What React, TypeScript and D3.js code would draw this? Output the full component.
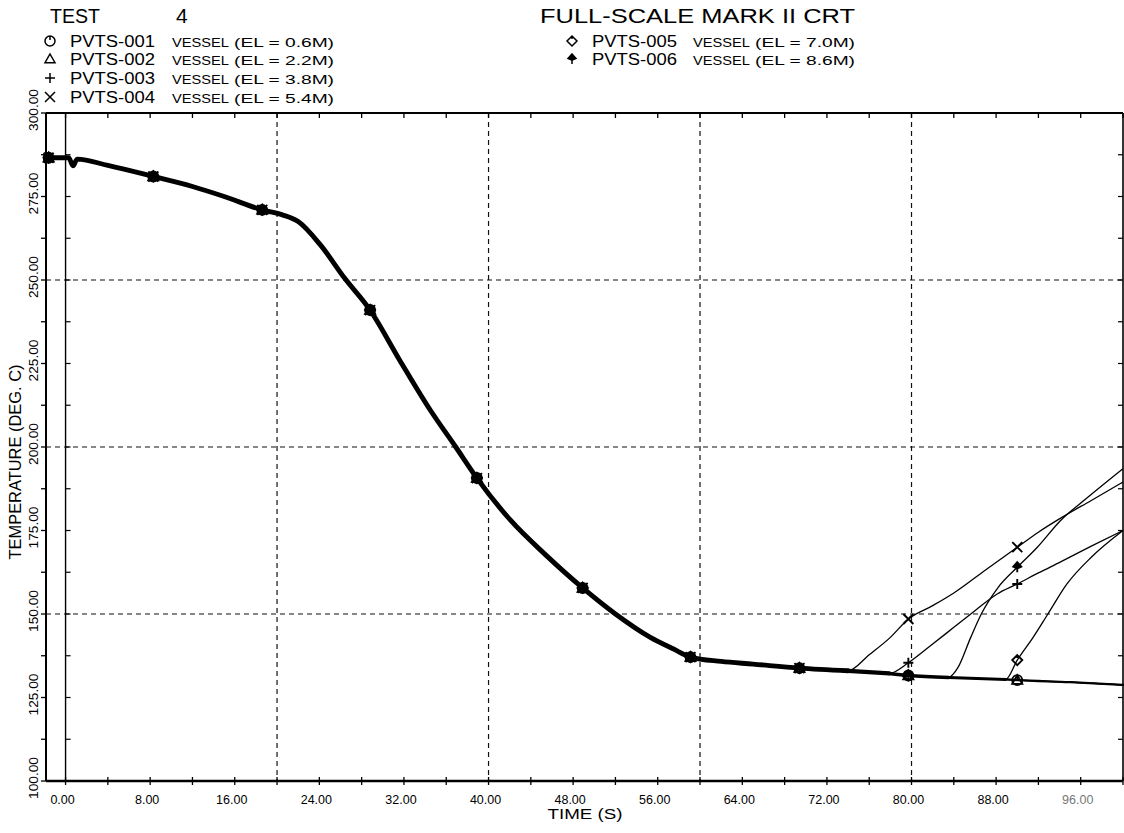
import React from 'react';
import * as d3 from 'd3';

const W = 1124;
const H = 833;

// ---- axes ----
const xDomain = [-1.85, 100];
const yDomain = [100, 300];
const xTickValues = d3.range(0, 101, 4);
const xLabelValues = [0, 8, 16, 24, 32, 40, 48, 56, 64, 72, 80, 88, 96];
const yTickValues = d3.range(100, 300.1, 12.5);
const yLabelValues = [100, 125, 150, 175, 200, 225, 250, 275, 300];
const gridX = [20, 40, 60, 80];
const gridY = [150, 200, 250];

// ---- data: common vessel temperature (all sensors submerged) ----
const baseTimes = [-1.85, -1.6, 0.3, 0.7, 1.1, 4, 8.3, 12, 15, 18.6, 20.5, 22, 24.1, 26.4, 28.8, 31.6, 34.5, 36.9, 38.9, 42.1, 45.4, 48.9, 52, 55.3, 57.5, 59.1, 62, 65, 69.4, 74, 77.9, 79.7, 83.5, 88.9, 90, 95, 100];
const baseTemps = [286.6, 286.6, 286.6, 284.2, 286.2, 284.3, 281, 278, 275, 271, 269.5, 267.5, 260.5, 250.5, 241, 226, 211, 200, 190.7, 178, 167.7, 157.8, 150, 143, 139.5, 137.1, 135.8, 135, 133.8, 133, 132.2, 131.6, 131, 130.4, 130.2, 129.6, 128.8];

// ---- data: individual departures (sensor uncovered) ----
const rise003Times = [77.9, 79.7, 82, 84, 86, 88.1, 90, 92, 94.1, 97, 100];
const rise003Temps = [132.2, 135.4, 141, 146, 151, 156, 159, 162.3, 165.6, 170.3, 175];
const rise004Times = [74, 76, 78, 79.7, 82, 84, 87, 90, 92, 94.1, 97, 100];
const rise004Temps = [133, 137.8, 143, 148.5, 152.5, 156.3, 163.2, 170, 174.5, 178.7, 184, 189.5];
const rise005Times = [88.9, 90, 91.5, 92.9, 94.7, 97, 100];
const rise005Temps = [130.4, 136.2, 143, 150, 159, 167, 175];
const rise006Times = [83.5, 84.4, 85.6, 86.6, 88.2, 90, 91.9, 94.1, 96.7, 100];
const rise006Temps = [131, 134, 143, 150, 158, 164, 170, 178, 185, 193.5];

const markerTimes = [-1.6, 8.3, 18.6, 28.8, 38.9, 48.9, 59.1, 69.4, 79.7, 90];

const seriesNames = ['PVTS-001', 'PVTS-002', 'PVTS-003', 'PVTS-004', 'PVTS-005', 'PVTS-006'];
const seriesElev = ['(EL = 0.6M)', '(EL = 2.2M)', '(EL = 3.8M)', '(EL = 5.4M)', '(EL = 7.0M)', '(EL = 8.6M)'];
const seriesSymbols = ['circle', 'triangle', 'plus', 'cross', 'diamond', 'arrow'];
const riseTimes = [[], [], rise003Times, rise004Times, rise005Times, rise006Times];
const riseTemps = [[], [], rise003Temps, rise004Temps, rise005Temps, rise006Temps];

const FONT = "'Liberation Sans', Arial, sans-serif";

const x = d3.scaleLinear().domain(xDomain).range([46, 1123]);
const y = d3.scaleLinear().domain(yDomain).range([781, 113]);

type P = [number, number];

function departTime(i: number) {
  return riseTimes[i].length ? riseTimes[i][0] : Infinity;
}

function buildSeries(i: number): P[] {
  const dep = departTime(i);
  const pts: P[] = [];
  baseTimes.forEach((t, j) => {
    if (t < dep) pts.push([t, baseTemps[j]]);
  });
  riseTimes[i].forEach((t, j) => pts.push([t, riseTemps[i][j]]));
  return pts;
}

const line = d3
  .line<P>()
  .x((d) => x(d[0]))
  .y((d) => y(d[1]))
  .curve(d3.curveMonotoneX);

function symbolPath(kind: string, s: number) {
  switch (kind) {
    case 'circle':
      return `M${s},0 A${s},${s} 0 1,1 ${-s},0 A${s},${s} 0 1,1 ${s},0 M0,${-s} L0,${-s * 0.2}`;
    case 'triangle':
      return `M0,${-s} L${s},${s * 0.75} L${-s},${s * 0.75} Z`;
    case 'plus':
      return `M${-s},0 L${s},0 M0,${-s} L0,${s}`;
    case 'cross':
      return `M${-s},${-s} L${s},${s} M${-s},${s} L${s},${-s}`;
    case 'diamond':
      return `M0,${-s} L${s},0 L0,${s} L${-s},0 Z M0,${-s} L0,${-s * 0.4}`;
    case 'arrow':
      return `M0,${-s} L${s * 0.8},${-s * 0.1} L0,${s * 0.25} L${-s * 0.8},${-s * 0.1} Z M0,${s * 0.25} L0,${s}`;
    default:
      return '';
  }
}

export default function App() {
  const series = seriesNames.map((_, i) => buildSeries(i));

  // base bundle segments: thickness grows with the number of sensors sharing it
  const groups: { pts: P[]; w: number }[] = [];
  let cur: { pts: P[]; w: number } | null = null;
  for (let j = 0; j < baseTimes.length - 1; j++) {
    const tEnd = baseTimes[j + 1];
    const count = seriesNames.filter((_, i) => departTime(i) >= tEnd).length;
    const w = 1 + 0.65 * count;
    if (!cur || cur.w !== w) {
      cur = { pts: [[baseTimes[j], baseTemps[j]]], w };
      groups.push(cur);
    }
    cur.pts.push([tEnd, baseTemps[j + 1]]);
  }

  const isMarker = (t: number) => markerTimes.some((m) => Math.abs(m - t) < 1e-6);

  const x0 = x(0);
  const left = x(xDomain[0]);
  const right = x(xDomain[1]);
  const top = y(yDomain[1]);
  const bottom = y(yDomain[0]);

  const leftRows = [0, 1, 2, 3];
  const rightRows = [4, 5];
  const rowBase = [47, 65, 84, 103];

  return (
    <svg
      width={W}
      height={H}
      viewBox={`0 0 ${W} ${H}`}
      style={{ position: 'absolute', left: 0, top: 0, background: '#fff' }}
      fontFamily={FONT}
    >
      <rect x={0} y={0} width={W} height={H} fill="#fff" />

      {/* grid */}
      {gridY.map((v) => (
        <line key={'gy' + v} x1={left} x2={right} y1={y(v)} y2={y(v)} stroke="#111" strokeWidth={1.2} strokeDasharray="5,4" />
      ))}
      {gridX.map((v) => (
        <line key={'gx' + v} x1={x(v)} x2={x(v)} y1={top} y2={bottom} stroke="#111" strokeWidth={1.2} strokeDasharray="5,4" />
      ))}

      {/* zero line */}
      <line x1={x0} x2={x0} y1={top} y2={bottom} stroke="#000" strokeWidth={1.4} />

      {/* frame */}
      <line x1={left} x2={right} y1={top} y2={top} stroke="#000" strokeWidth={2} />
      <line x1={left} x2={right} y1={bottom} y2={bottom} stroke="#000" strokeWidth={2.6} />
      <line x1={left} x2={left} y1={top} y2={bottom} stroke="#000" strokeWidth={2} />
      <line x1={right} x2={right} y1={top} y2={bottom} stroke="#000" strokeWidth={1.6} />

      {/* ticks */}
      {xTickValues.map((v) => (
        <g key={'xt' + v}>
          <line x1={x(v)} x2={x(v)} y1={bottom - 4} y2={bottom + 4} stroke="#000" strokeWidth={1.3} />
          <line x1={x(v)} x2={x(v)} y1={top} y2={top + 5} stroke="#000" strokeWidth={1.3} />
        </g>
      ))}
      {yTickValues.map((v) => (
        <g key={'yt' + v}>
          <line x1={left - 5} x2={left} y1={y(v)} y2={y(v)} stroke="#000" strokeWidth={1.3} />
          <line x1={x0} x2={x0 + 5} y1={y(v)} y2={y(v)} stroke="#000" strokeWidth={1.2} />
          <line x1={right - 5} x2={right} y1={y(v)} y2={y(v)} stroke="#000" strokeWidth={1.2} />
        </g>
      ))}

      {/* tick labels */}
      {xLabelValues.map((v) => (
        <text key={'xl' + v} x={x(v) - 3} y={804} fontSize={12.5} textAnchor="middle" fill={v === 96 ? '#777' : '#000'}>
          {v.toFixed(2)}
        </text>
      ))}
      {yLabelValues.map((v) => (
        <text
          key={'yl' + v}
          transform={`translate(38,${y(v) - 3}) rotate(-90)`}
          fontSize={13}
          textAnchor="middle"
          textLength={42}
          lengthAdjust="spacingAndGlyphs"
        >
          {v.toFixed(2)}
        </text>
      ))}

      {/* axis titles */}
      <text x={585} y={819} fontSize={14} textAnchor="middle" textLength={75} lengthAdjust="spacingAndGlyphs">
        TIME (S)
      </text>
      <text
        transform={`translate(21,462) rotate(-90)`}
        fontSize={16}
        textAnchor="middle"
        textLength={195}
        lengthAdjust="spacingAndGlyphs"
      >
        TEMPERATURE (DEG. C)
      </text>

      {/* series lines */}
      {series.map((pts, i) => (
        <path key={'s' + i} d={line(pts) || ''} fill="none" stroke="#000" strokeWidth={1.3} strokeLinejoin="round" />
      ))}
      {groups.map((g, k) => (
        <path key={'b' + k} d={line(g.pts) || ''} fill="none" stroke="#000" strokeWidth={g.w} strokeLinejoin="round" strokeLinecap="round" />
      ))}

      {/* markers */}
      {series.map((pts, i) =>
        pts
          .filter((p) => isMarker(p[0]))
          .map((p, k) => (
            <path
              key={'m' + i + '-' + k}
              transform={`translate(${x(p[0])},${y(p[1])})`}
              d={symbolPath(seriesSymbols[i], 5)}
              fill={seriesSymbols[i] === 'arrow' ? '#000' : 'none'}
              stroke="#000"
              strokeWidth={1.9}
            />
          ))
      )}

      {/* header */}
      <text x={50} y={23} fontSize={21} textLength={50} lengthAdjust="spacingAndGlyphs">
        TEST
      </text>
      <text x={176} y={23} fontSize={21}>
        4
      </text>
      <text x={540} y={23} fontSize={21} textLength={315} lengthAdjust="spacingAndGlyphs">
        FULL-SCALE MARK II CRT
      </text>

      {leftRows.map((i, r) => (
        <g key={'ll' + i}>
          <path
            transform={`translate(50,${rowBase[r] - 6})`}
            d={symbolPath(seriesSymbols[i], 5)}
            fill={seriesSymbols[i] === 'arrow' ? '#000' : 'none'}
            stroke="#000"
            strokeWidth={1.5}
          />
          <text x={70} y={rowBase[r]} fontSize={16} textLength={85} lengthAdjust="spacingAndGlyphs">
            {seriesNames[i]}
          </text>
          <text x={172} y={rowBase[r]} fontSize={12.5} textLength={57} lengthAdjust="spacingAndGlyphs">
            VESSEL
          </text>
          <text x={234} y={rowBase[r]} fontSize={12.5} textLength={100} lengthAdjust="spacingAndGlyphs">
            {seriesElev[i]}
          </text>
        </g>
      ))}
      {rightRows.map((i, r) => (
        <g key={'rl' + i}>
          <path
            transform={`translate(572,${rowBase[r] - 6})`}
            d={symbolPath(seriesSymbols[i], 5)}
            fill={seriesSymbols[i] === 'arrow' ? '#000' : 'none'}
            stroke="#000"
            strokeWidth={1.5}
          />
          <text x={592} y={rowBase[r]} fontSize={16} textLength={85} lengthAdjust="spacingAndGlyphs">
            {seriesNames[i]}
          </text>
          <text x={693} y={rowBase[r]} fontSize={12.5} textLength={57} lengthAdjust="spacingAndGlyphs">
            VESSEL
          </text>
          <text x={755} y={rowBase[r]} fontSize={12.5} textLength={100} lengthAdjust="spacingAndGlyphs">
            {seriesElev[i]}
          </text>
        </g>
      ))}
    </svg>
  );
}
